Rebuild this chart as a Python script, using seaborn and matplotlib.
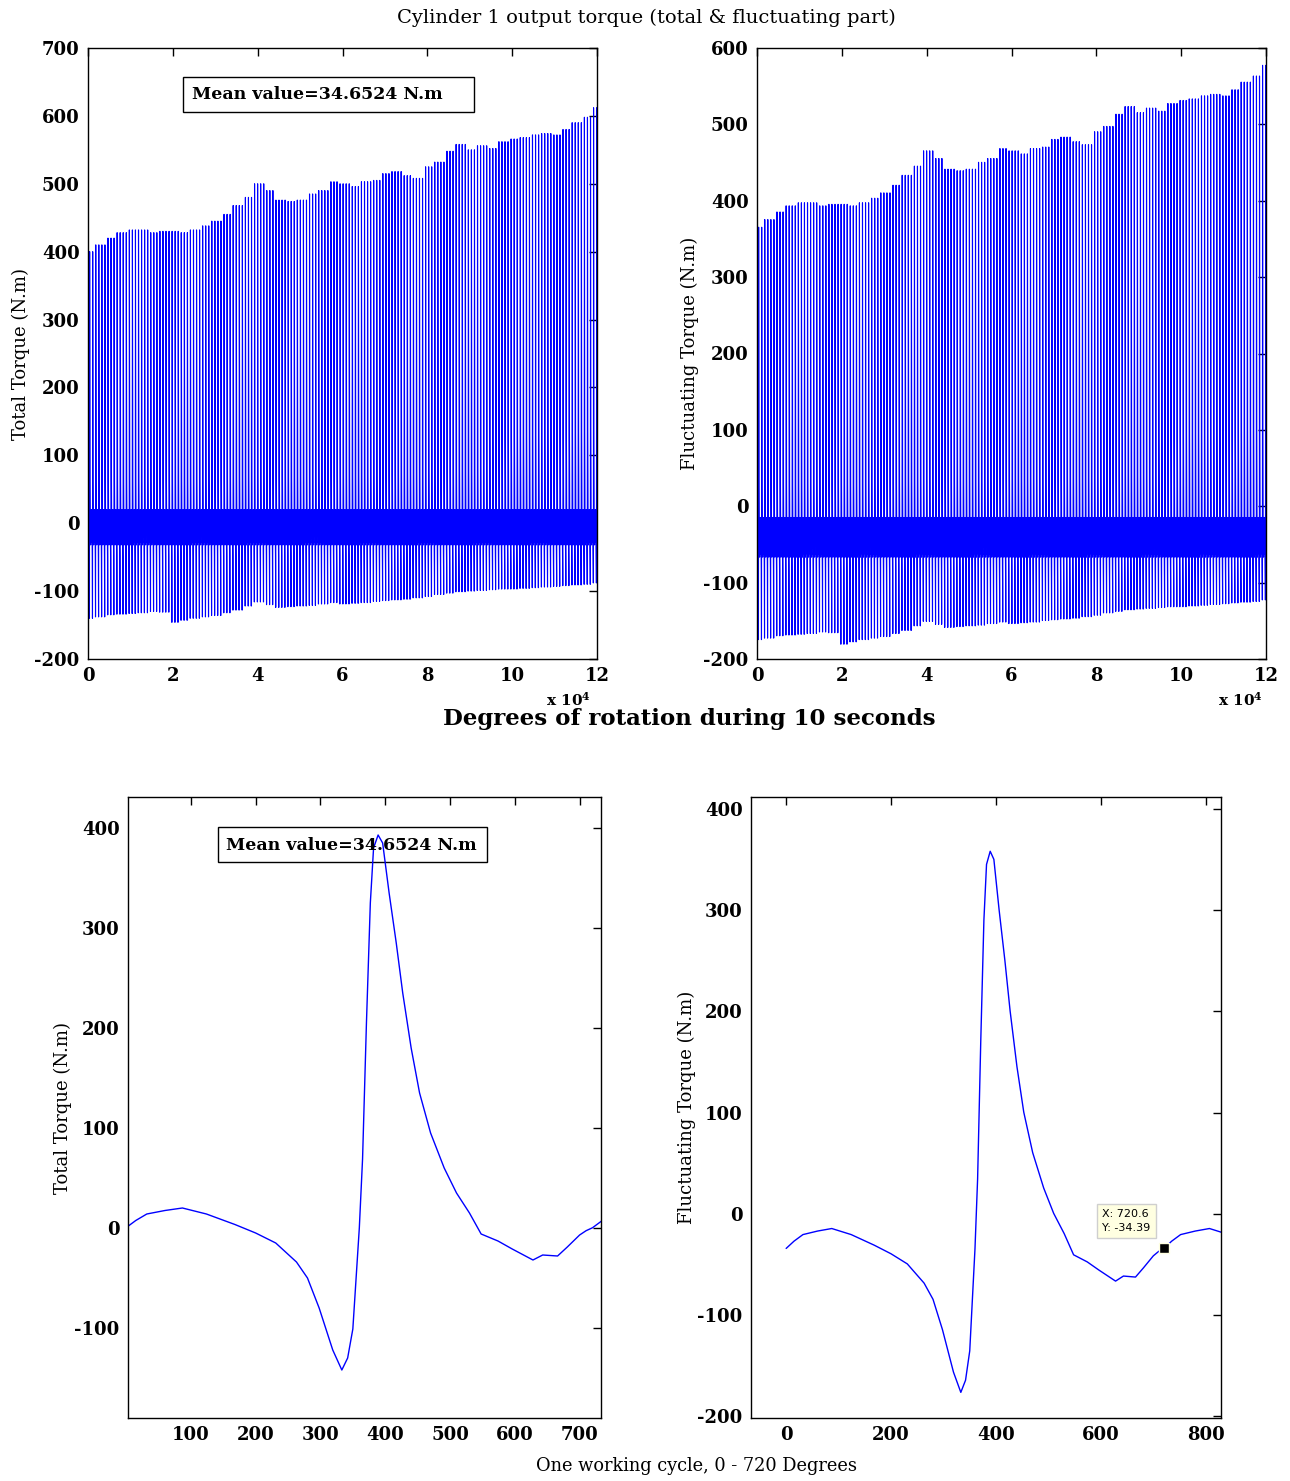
import numpy as np
import seaborn as sns
import matplotlib.pyplot as plt
from matplotlib.patches import Rectangle

# one working cycle (0 - 720 deg) of total torque
CYCLE_DEG = [0, 15, 32, 60, 87, 124, 168, 200, 231, 263, 280, 298, 319, 333, 342,
             350, 360, 365, 371, 377, 382, 389, 396, 406, 417, 427, 440, 453, 470,
             491, 510, 530, 548, 574, 596, 628, 643, 666, 681, 700, 710]
CYCLE_TOTAL = [0.3, 7.5, 14, 17.5, 20, 14, 3.5, -5, -15, -34, -50, -80, -122, -142, -130,
               -101, 0, 69, 205, 325, 380, 393, 385, 335, 285, 235, 180, 135, 95,
               60, 35, 15, -6, -13, -21, -32, -27, -28, -19, -7, -2.7]
MEAN_TOTAL = 34.6524

# envelope of the 10 s run (peak / lowest total torque), read every 2500 deg
ENV_STEP = 2500
PEAK_TOTAL = [400, 410, 420, 428, 432, 432, 428, 430, 430, 428, 432, 438, 445, 455,
              468, 480, 500, 490, 476, 474, 476, 485, 490, 503, 500, 496, 503, 505,
              515, 518, 512, 508, 525, 532, 548, 558, 550, 556, 552, 562, 566, 568,
              572, 574, 572, 580, 590, 598, 612]
MIN_TOTAL = [-140, -138, -135, -134, -133, -132, -130, -131, -146, -143, -140, -138,
             -136, -132, -128, -122, -116, -120, -124, -123, -122, -121, -119, -117,
             -119, -118, -117, -115, -114, -113, -112, -110, -108, -105, -103, -101,
             -100, -99, -98, -97, -97, -96, -95, -94, -93, -92, -91, -90, -88]

TOP_XTICKS = [0, 20000, 40000, 60000, 80000, 100000, 120000]
TOP_XTICKLABELS = ['0', '2', '4', '6', '8', '10', '12']

TIP_X = 720.6
TIP_Y = -34.39

sns.set_theme(style='white')
plt.rcParams['font.family'] = ['DejaVu Serif']
plt.rcParams['axes.unicode_minus'] = False
plt.rcParams['mathtext.default'] = 'regular'
plt.rcParams['text.color'] = 'black'
plt.rcParams['axes.labelcolor'] = 'black'

# build the long run by repeating the cycle, stretching spike and dip to the envelope
cyc_x = np.array(CYCLE_DEG, dtype=float)
cyc_y = np.array(CYCLE_TOTAL, dtype=float)
ref_peak, ref_min = cyc_y.max(), cyc_y.min()
run_end = ENV_STEP * (len(PEAK_TOTAL) - 1)
run_x, run_y = [], []
for k in range(int(run_end // 720) + 1):
    start = 720 * k
    b = int(round(start / ENV_STEP))
    y = cyc_y.copy()
    hi = y > 25
    y[hi] = 25 + (y[hi] - 25) * (PEAK_TOTAL[b] - 25) / (ref_peak - 25)
    lo = y < -40
    y[lo] = -40 + (y[lo] + 40) * (MIN_TOTAL[b] + 40) / (ref_min + 40)
    run_x.append(start + cyc_x)
    run_y.append(y)
run_x = np.concatenate(run_x)
run_y = np.concatenate(run_y)
keep = run_x <= run_end
run_x, run_y = run_x[keep], run_y[keep]

# one cycle plus the start of the next one
ext_x = np.concatenate([cyc_x, cyc_x + 720])
ext_y = np.concatenate([cyc_y, cyc_y])

fig = plt.figure(figsize=(12.9, 14.81), dpi=100)
W, H = 1290, 1481
ax1 = fig.add_axes([88 / W, 1 - 659 / H, 509 / W, 611 / H])
ax2 = fig.add_axes([757 / W, 1 - 659 / H, 509 / W, 611 / H])
ax3 = fig.add_axes([128 / W, 1 - 1418 / H, 473 / W, 621 / H])
ax4 = fig.add_axes([751 / W, 1 - 1418 / H, 470 / W, 621 / H])

blue = '#0000ff'
sns.lineplot(x=run_x, y=run_y, ax=ax1, color=blue, linewidth=0.8,
             estimator=None, sort=False)
sns.lineplot(x=run_x, y=run_y - MEAN_TOTAL, ax=ax2, color=blue, linewidth=0.8,
             estimator=None, sort=False)
m = ext_x <= 740
sns.lineplot(x=ext_x[m], y=ext_y[m], ax=ax3, color=blue, linewidth=1.0,
             estimator=None, sort=False)
m = ext_x <= 850
sns.lineplot(x=ext_x[m], y=ext_y[m] - MEAN_TOTAL, ax=ax4, color=blue, linewidth=1.0,
             estimator=None, sort=False)

ax1.set_xlim(0, 120000)
ax1.set_ylim(-200, 700)
ax1.set_yticks(range(-200, 701, 100))
ax2.set_xlim(0, 120000)
ax2.set_ylim(-200, 600)
ax2.set_yticks(range(-200, 601, 100))
for ax in (ax1, ax2):
    ax.set_xticks(TOP_XTICKS)
    ax.set_xticklabels(TOP_XTICKLABELS)

ax3.set_xlim(3, 733)
ax3.set_ylim(-190, 431)
ax3.set_xticks(range(100, 701, 100))
ax3.set_yticks(range(-100, 401, 100))
ax4.set_xlim(-67, 829)
ax4.set_ylim(-202, 412)
ax4.set_xticks(range(0, 801, 200))
ax4.set_yticks(range(-200, 401, 100))

for ax in (ax1, ax2, ax3, ax4):
    ax.tick_params(direction='in', top=True, right=True, length=6, width=1,
                   labelsize=13, pad=6, colors='black')
    for lab in ax.get_xticklabels() + ax.get_yticklabels():
        lab.set_fontweight('bold')
    for s in ax.spines.values():
        s.set_color('black')
        s.set_linewidth(1)
    ax.set_xlabel('')

ax1.set_ylabel('Total Torque (N.m)', fontsize=13, labelpad=3)
ax2.set_ylabel('Fluctuating Torque (N.m)', fontsize=13, labelpad=3)
ax3.set_ylabel('Total Torque (N.m)', fontsize=13, labelpad=2)
ax4.set_ylabel('Fluctuating Torque (N.m)', fontsize=13, labelpad=1)

# mean value boxes
for ax, box, tx in ((ax1, (0.1866, 0.8953, 0.5717, 0.0573), (0.2043, 0.9231)),
                    (ax3, (0.1903, 0.8953, 0.5687, 0.0564), (0.2072, 0.9227))):
    ax.add_patch(Rectangle(box[:2], box[2], box[3], transform=ax.transAxes,
                           facecolor='none', edgecolor='black', linewidth=1))
    ax.text(tx[0], tx[1], 'Mean value=%.4f N.m' % MEAN_TOTAL, transform=ax.transAxes,
            ha='left', va='center', fontsize=12.5, fontweight='bold')

# data tip
ax4.plot([TIP_X], [TIP_Y], marker='s', markersize=7, color='black',
         markeredgecolor='#ffffe1', markeredgewidth=1)
ax4.text(603, 5, 'X: %.1f\nY: %.2f' % (TIP_X, TIP_Y), family='DejaVu Sans', fontsize=8,
         ha='left', va='top', linespacing=1.5,
         bbox=dict(boxstyle='square,pad=0.45', facecolor='#ffffe1', edgecolor='#cfcfcf'))

fig.text(646 / W, 1 - 18 / H, 'Cylinder 1 output torque (total & fluctuating part)',
         ha='center', va='center', fontsize=14)
fig.text(689 / W, 1 - 719 / H, 'Degrees of rotation during 10 seconds',
         ha='center', va='center', fontsize=16.5, fontweight='bold')
fig.text(697 / W, 1 - 1466 / H, 'One working cycle, 0 - 720 Degrees',
         ha='center', va='center', fontsize=12.8)
for xc in (568, 1240):
    fig.text(xc / W, 1 - 700 / H, r'x 10$^4$', ha='center', va='center',
             fontsize=11, fontweight='bold')

fig.savefig('out.png', dpi=100, facecolor='white')
